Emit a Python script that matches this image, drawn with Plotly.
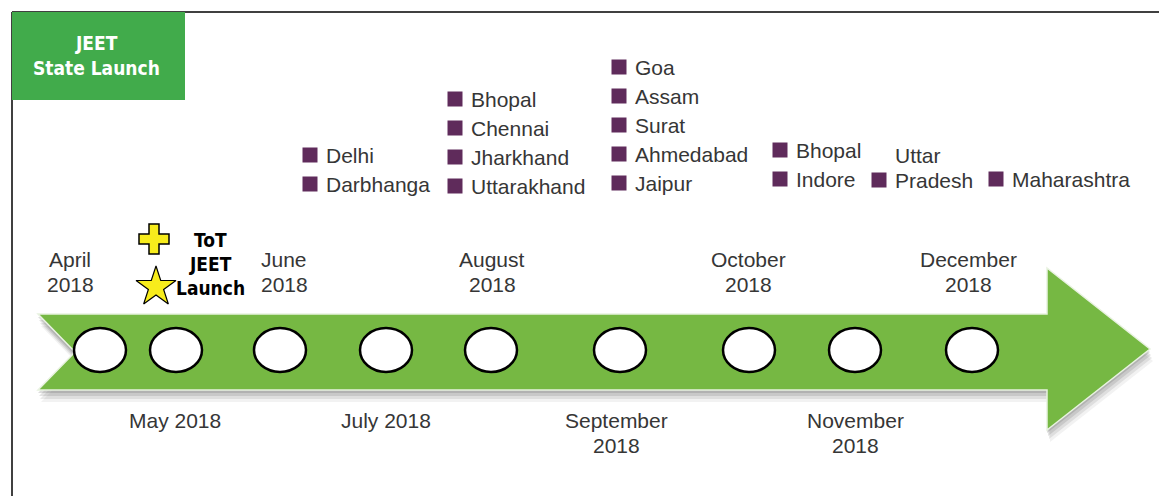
import plotly.graph_objects as go

W, H = 1159, 496

# ---- data ----
title_lines = ["JEET", "State Launch"]
months = ["April 2018", "May 2018", "June 2018", "July 2018", "August 2018",
          "September 2018", "October 2018", "November 2018", "December 2018"]
month_label_lines = [["April", "2018"], ["May 2018"], ["June", "2018"], ["July 2018"], ["August", "2018"],
                     ["September", "2018"], ["October", "2018"], ["November", "2018"], ["December", "2018"]]
label_side = ["above", "below", "above", "below", "above", "below", "above", "below", "above"]
tot_label = ["ToT", "JEET", "Launch"]

city_groups = [
    ["Delhi", "Darbhanga"],
    ["Bhopal", "Chennai", "Jharkhand", "Uttarakhand"],
    ["Goa", "Assam", "Surat", "Ahmedabad", "Jaipur"],
    ["Bhopal", "Indore"],
    ["Uttar Pradesh"],
    ["Maharashtra"],
]

# ---- layout positions (pixels) ----
circle_x = [100, 176, 280, 386, 491, 620, 749, 855, 972]
label_x = [70, 175, 284, 386, 492, 616, 748, 855, 968]
circle_y, circle_rx, circle_ry = 350, 26, 22
group_x = [310, 455, 619, 780, 879, 996]
group_bottom_y = [184, 186, 183, 179, 180, 179]
row_gap = 29
line_gap = 25

GREEN = "#76b843"
BOX_GREEN = "#41ab4b"
PURPLE = "#5f2b5b"
TXT = "#363636"
LIGHT = "Liberation Sans, Arial, sans-serif"
NARROW = "DejaVu Sans Condensed, Liberation Sans Narrow, sans-serif"
FS = 21

fig = go.Figure()
shapes = []
ann = []


def text_lines(x, yc, lines, font, gap, xanchor="center"):
    n = len(lines)
    for i, t in enumerate(lines):
        y = yc + (i - (n - 1) / 2) * gap
        ann.append(dict(x=x, y=y, text=t, showarrow=False, xanchor=xanchor, yanchor="middle",
                        font=font))


# frame
shapes.append(dict(type="line", x0=12, x1=12, y0=12, y1=H, line=dict(color="black", width=1.5)))
shapes.append(dict(type="line", x0=12, x1=W, y0=12, y1=12, line=dict(color="black", width=1.5)))
# title box
shapes.append(dict(type="rect", x0=12, x1=185, y0=12, y1=100, fillcolor=BOX_GREEN, line=dict(width=0)))
text_lines(96, 55, title_lines, dict(family=NARROW, size=19, color="white", weight="bold"), 25)

# arrow
verts = [(38, 314), (1047, 314), (1047, 268), (1150, 349), (1047, 430), (1047, 390), (38, 390), (75, 352)]


def path_of(vs, dx=0, dy=0):
    return "M " + " L ".join(f"{x+dx},{y+dy}" for x, y in vs) + " Z"


for dx, dy, op in [(3, 12, 0.08), (2, 9, 0.12), (1, 6, 0.16), (0, 3, 0.2)]:
    shapes.append(dict(type="path", path=path_of(verts, dx, dy), fillcolor="#555555",
                       opacity=op, line=dict(width=0)))
shapes.append(dict(type="path", path=path_of(verts), fillcolor=GREEN, line=dict(color="#e8f2e0", width=1.5)))

# milestone circles
for cx in circle_x:
    shapes.append(dict(type="circle", x0=cx - circle_rx, x1=cx + circle_rx,
                       y0=circle_y - circle_ry, y1=circle_y + circle_ry,
                       fillcolor="white", line=dict(color="black", width=2.5)))

# month labels
lab_font = dict(family=LIGHT, size=FS, color=TXT)
for lx, lines, side in zip(label_x, month_label_lines, label_side):
    if side == "above":
        yc = 272
    else:
        yc = 420 + (len(lines) - 1) * line_gap / 2
    text_lines(lx, yc, lines, lab_font, line_gap)

# ToT JEET Launch
text_lines(210, 264, tot_label, dict(family=NARROW, size=19, color="black", weight="bold"), 24)
fig.add_trace(go.Scatter(x=[154], y=[239], mode="markers",
                         marker=dict(symbol="cross", size=25, color="#f7ec1c",
                                     line=dict(color="black", width=1.5)), hoverinfo="skip"))
fig.add_trace(go.Scatter(x=[156], y=[287], mode="markers",
                         marker=dict(symbol="star", size=30, color="#f7ec1c",
                                     line=dict(color="black", width=1.2)), hoverinfo="skip"))

# city lists
sq_x, sq_y = [], []
for gx, gb, cities in zip(group_x, group_bottom_y, city_groups):
    n = len(cities)
    for i, c in enumerate(cities):
        y = gb - (n - 1 - i) * row_gap
        if c == "Uttar Pradesh":
            ann.append(dict(x=gx + 14, y=gb - 25, text="Uttar", showarrow=False, xanchor="left",
                            font=lab_font))
            txt = "Pradesh"
        else:
            txt = c
        sq_x.append(gx)
        sq_y.append(y)
        ann.append(dict(x=gx + 14, y=y, text=txt, showarrow=False, xanchor="left", font=lab_font))
fig.add_trace(go.Scatter(x=sq_x, y=sq_y, mode="markers",
                         marker=dict(symbol="square", size=15, color=PURPLE), hoverinfo="skip"))

fig.update_layout(
    width=W, height=H, margin=dict(l=0, r=0, t=0, b=0),
    paper_bgcolor="white", plot_bgcolor="white", showlegend=False,
    xaxis=dict(range=[0, W], visible=False, fixedrange=True),
    yaxis=dict(range=[H, 0], visible=False, fixedrange=True),
    shapes=shapes, annotations=ann,
)
fig.write_html("out.html", config={"displayModeBar": False},
               post_script="document.body.style.margin='0';document.body.style.overflow='hidden';")
